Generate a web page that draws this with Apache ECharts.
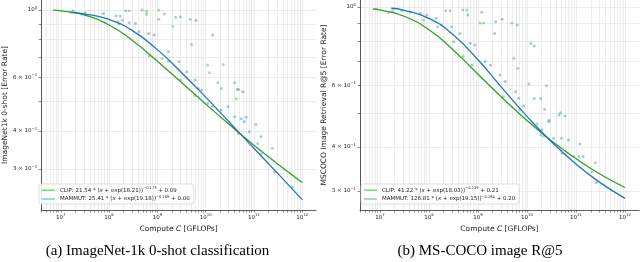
<!DOCTYPE html>
<html><head><meta charset="utf-8">
<script src="https://cdn.jsdelivr.net/npm/echarts@6/dist/echarts.min.js"></script>
<style>html,body{margin:0;padding:0;background:#fff}#c{width:640px;height:262px}</style>
</head><body><div id="c"></div><script>
// ---------- data ----------
const xTickLabels = [1e7, 1e8, 1e9, 1e10, 1e11, 1e12];
const yTickLabels = [1, 0.6, 0.4, 0.3];

// fitted curves
const fitXaClip = [7e6, 1e7, 3e7, 1e8, 3e8, 1e9, 3e9, 1e10, 3e10, 1e11, 3e11, 1e12];
const fitYaClip = [0.999, 0.994, 0.964, 0.893, 0.796, 0.679, 0.582, 0.491, 0.422, 0.359, 0.313, 0.271];
const fitXaMammut = [1.7e7, 3e7, 1e8, 3e8, 1e9, 3e9, 1e10, 3e10, 1e11, 3e11, 1e12];
const fitYaMammut = [0.981, 0.972, 0.931, 0.857, 0.741, 0.628, 0.517, 0.430, 0.351, 0.292, 0.238];
const fitXbClip = [7.2e6, 1e7, 3e7, 1e8, 3e8, 1e9, 3e9, 1e10, 3e10, 1e11, 3e11, 1e12];
const fitYbClip = [0.987, 0.981, 0.943, 0.862, 0.759, 0.644, 0.555, 0.476, 0.419, 0.371, 0.336, 0.307];
const fitXbMammut = [1.7e7, 3e7, 1e8, 3e8, 1e9, 3e9, 1e10, 3e10, 1e11, 3e11, 1e12];
const fitYbMammut = [0.992, 0.980, 0.928, 0.838, 0.708, 0.592, 0.489, 0.417, 0.358, 0.318, 0.286];

// scatter observations
const ptsAClip = [[1.6e7,0.982],[2e7,0.98],[2.7e7,0.97],[1.5e8,0.916],[2.2e8,0.995],[2.6e8,0.995],[4.8e8,1.0],[6e8,0.99],[6e8,0.968],[1.07e9,1.0],[1.4e9,0.97],[1.07e9,0.932],[2.4e9,0.946],[4.8e9,0.932],[2.1e9,0.885],[5.1e9,0.771],[1.1e10,0.659],[2.3e10,0.662],[1.2e10,0.622],[1.8e10,0.577],[4e10,0.577],[2.1e10,0.552],[4.3e10,0.511],[4.8e10,0.548],[6.8e8,0.706],[1.26e9,0.693],[1.7e9,0.68],[3e9,0.589],[6e9,0.525],[1.1e10,0.493],[1.1e11,0.42],[1.2e11,0.364],[2.4e11,0.351],[4.7e10,0.393],[1.6e8,0.9]];
const ptsAMammut = [[1.8e7,0.995],[3.2e7,0.98],[7.6e7,0.975],[1.4e8,0.958],[1.7e8,0.955],[1.9e8,0.927],[2.6e8,0.909],[3.5e8,0.904],[4.2e8,0.849],[6.6e8,0.838],[8.5e8,0.828],[1.7e9,0.729],[2.8e9,0.676],[4.1e9,0.627],[6e9,0.589],[7.1e9,0.552],[8.3e9,0.546],[1.4e10,0.483],[2.1e10,0.469],[2.9e10,0.481],[4e10,0.446],[5.4e10,0.439],[6.9e10,0.444],[3e9,0.95],[6.3e9,0.923],[1.4e10,0.828],[5.9e10,0.539],[4.5e10,0.548],[6.3e10,0.43],[8e10,0.398],[1.4e11,0.383],[1.4e11,0.336],[2.7e11,0.294],[6.2e11,0.262]];
const ptsBClip = [[1.5e7,0.964],[2.2e8,0.976],[2.7e8,0.976],[4.9e8,0.98],[5.9e8,0.98],[1.1e9,0.9],[1.3e9,0.9],[2.2e9,0.841],[4.9e9,0.9],[1.2e10,0.789],[5.4e9,0.715],[1.1e10,0.604],[2.5e10,0.597],[2.3e10,0.512],[4.8e10,0.501],[7.7e7,0.918],[1.5e8,0.879],[3.2e8,0.797],[5e8,0.723],[7.5e8,0.684],[3.3e9,0.556],[7.2e9,0.51],[1.6e10,0.465],[1.9e10,0.433],[5.1e10,0.424],[1.2e11,0.408],[1.15e11,0.376],[2.5e11,0.361],[2.1e11,0.34]];
const ptsBMammut = [[1.8e7,0.976],[2.8e7,0.976],[4.1e7,0.968],[6.6e7,0.959],[9e7,0.949],[1.4e8,0.929],[1.8e8,0.889],[2.9e8,0.879],[4.3e8,0.841],[6.9e8,0.789],[8.7e8,0.78],[1.4e9,0.70],[1.8e9,0.684],[2.8e9,0.641],[3.6e9,0.614],[5.8e9,0.574],[6.8e9,0.55],[8.5e9,0.523],[1.4e10,0.55],[1.9e10,0.55],[4.5e10,0.493],[6e10,0.49],[2.8e10,0.477],[1.2e9,0.966],[2.3e9,0.908],[3.1e9,0.923],[6.3e9,0.889],[1.4e10,0.775],[6.5e9,0.67],[6.2e8,0.949],[2e10,0.448],[2.8e10,0.472],[3.5e10,0.424],[7e10,0.419],[5.2e10,0.384],[9e10,0.376],[1.4e11,0.376],[2.6e11,0.317],[2.2e10,0.43]];

// legend texts: [prefix, coefficient-part, exponent, suffix]
const legendA = {
  'CLIP (a)': ['CLIP: 21.54 * (', ' + exp(18.21))', '−0.173', ' + 0.09'],
  'MAMMUT (a)': ['MAMMUT: 25.41 * (', ' + exp(19.18))', '−0.169', ' + 0.00']
};
const legendB = {
  'CLIP (b)': ['CLIP: 41.22 * (', ' + exp(18.03))', '−0.219', ' + 0.21'],
  'MAMMUT (b)': ['MAMMUT: 126.81 * (', ' + exp(19.15))', '−0.264', ' + 0.20']
};
const yNames = ['ImageNet1k 0-shot [Error Rate]', 'MSCOCO Image Retrieval R@5 [Error Rate]'];
const captions = ['(a) ImageNet-1k 0-shot classification', '(b) MS-COCO image R@5'];

// ---------- styling ----------
const GREEN = '#2ca02c', BLUE = '#1f77b4';
const FONT = 'DejaVu Sans';
const xMin = 3.91e6, xMax = 1.93e12;
const yRange = [[0.22, 1.079], [0.265, 1.047]];

const xMinor = [], yMinor = [0.3, 0.4, 0.5, 0.6, 0.7, 0.8, 0.9, 1.0];
for (let n = 6; n <= 12; n++) for (let k = 1; k <= 9; k++) {
  const v = k * Math.pow(10, n);
  if (v >= xMin && v <= xMax) xMinor.push(v);
}
const supRich = {
  b: {fontFamily: FONT, fontSize: 5.5, lineHeight: 9, color: '#222'},
  s: {fontFamily: FONT, fontSize: 3.8, verticalAlign: 'top', color: '#222'}
};
function xFmt(v) { return '{b|10}{s|' + Math.round(Math.log10(v)) + '}'; }
function yFmt(v) {
  if (Math.abs(v - 1) < 1e-9) return '{b|10}{s|0}';
  return '{b|' + Math.round(v * 10) + ' × 10}{s|−1}';
}
const grids = [
  {left: 37, top: 0, width: 279, height: 210},
  {left: 360, top: 0, width: 279, height: 210}
];
const xAxes = grids.map((g, i) => ({
  type: 'log', logBase: 10, gridIndex: i, min: xMin, max: xMax,
  axisLine: {show: true, onZero: false, lineStyle: {color: '#333', width: 0.8}},
  axisTick: {show: true, customValues: xMinor, length: 2.5, lineStyle: {color: '#444', width: 0.6}},
  axisLabel: {customValues: xTickLabels, formatter: xFmt, rich: supRich, margin: 3},
  splitLine: {show: false},
  name: '{n|Compute }{i|C}{n| [GFLOPs]}', nameLocation: 'middle', nameGap: 13,
  nameTextStyle: {rich: {
    n: {fontFamily: FONT, fontSize: 7.5, color: '#222'},
    i: {fontFamily: FONT, fontSize: 7.5, fontStyle: 'italic', color: '#222'}
  }}
}));
const yAxes = grids.map((g, i) => ({
  type: 'log', logBase: 10, gridIndex: i, min: yRange[i][0], max: yRange[i][1],
  axisLine: {show: true, onZero: false, lineStyle: {color: '#333', width: 0.8}},
  axisTick: {show: true, customValues: yMinor, length: 2.5, lineStyle: {color: '#444', width: 0.6}},
  axisLabel: {customValues: yTickLabels, formatter: yFmt, rich: supRich, margin: 4},
  splitLine: {show: false},
  name: yNames[i], nameLocation: 'middle', nameGap: i === 0 ? 29 : 32, nameRotate: 90,
  nameTextStyle: {fontFamily: FONT, fontSize: 7.5, color: '#222'}
}));

function gridSeries(i) {
  const data = [];
  xMinor.forEach(v => data.push({xAxis: v}));
  yMinor.forEach(v => { if (v >= yRange[i][0]) data.push({yAxis: v}); });
  return {
    type: 'line', xAxisIndex: i, yAxisIndex: i, data: [], silent: true,
    markLine: {silent: true, symbol: 'none', z: 0, animation: false,
      label: {show: false}, lineStyle: {color: '#e4e4e4', width: 0.7, type: 'solid'},
      emphasis: {disabled: true}, data: data}
  };
}
function fitSeries(name, i, xs, ys, color) {
  return {type: 'line', name: name, xAxisIndex: i, yAxisIndex: i, z: 4,
    data: xs.map((x, k) => [x, ys[k]]), showSymbol: false, smooth: 0.5,
    lineStyle: {color: color, width: 1.3}, itemStyle: {color: color}};
}
function scatterSeries(i, pts, color) {
  return {type: 'scatter', xAxisIndex: i, yAxisIndex: i, z: 3, data: pts, symbolSize: 3,
    itemStyle: {color: color, opacity: 0.4}};
}
function legendFmt(map) {
  return function (name) {
    const p = map[name];
    return '{n|' + p[0] + '}{i|x}{n|' + p[1] + '}{s|' + p[2] + '}{n|' + p[3] + '}';
  };
}
const legRich = {
  n: {fontFamily: FONT, fontSize: 5.5, lineHeight: 8.5, color: '#222'},
  i: {fontFamily: FONT, fontSize: 5.5, lineHeight: 8.5, fontStyle: 'italic', color: '#222'},
  s: {fontFamily: FONT, fontSize: 3.6, verticalAlign: 'top', color: '#222'}
};
function legend(left, top, map, names) {
  return {left: left, top: top, orient: 'vertical', itemWidth: 13, itemHeight: 1.6, itemGap: 1.5,
    padding: [2, 4, 2, 3], icon: 'rect', borderColor: '#d0d0d0', borderWidth: 0.7, borderRadius: 2,
    backgroundColor: 'rgba(255,255,255,0.85)', selectedMode: false,
    data: [{name: names[0], itemStyle: {color: '#8fd18f'}}, {name: names[1], itemStyle: {color: '#9cc3e4'}}],
    formatter: legendFmt(map), textStyle: {rich: legRich}};
}

const chart = echarts.init(document.getElementById('c'), null, {renderer: 'canvas'});
chart.setOption({
  animation: false,
  grid: grids,
  xAxis: xAxes,
  yAxis: yAxes,
  legend: [legend(39, 184, legendA, ['CLIP (a)', 'MAMMUT (a)']), legend(361, 184, legendB, ['CLIP (b)', 'MAMMUT (b)'])],
  series: [
    gridSeries(0), gridSeries(1),
    scatterSeries(0, ptsAClip, GREEN), scatterSeries(0, ptsAMammut, BLUE),
    scatterSeries(1, ptsBClip, GREEN), scatterSeries(1, ptsBMammut, BLUE),
    fitSeries('CLIP (a)', 0, fitXaClip, fitYaClip, GREEN),
    fitSeries('MAMMUT (a)', 0, fitXaMammut, fitYaMammut, BLUE),
    fitSeries('CLIP (b)', 1, fitXbClip, fitYbClip, GREEN),
    fitSeries('MAMMUT (b)', 1, fitXbMammut, fitYbMammut, BLUE)
  ],
  graphic: [
    {type: 'text', x: 157.5, y: 251, style: {text: captions[0], font: '15px "Liberation Serif"', align: 'center', verticalAlign: 'middle', fill: '#000'}},
    {type: 'text', x: 480, y: 251, style: {text: captions[1], font: '15px "Liberation Serif"', align: 'center', verticalAlign: 'middle', fill: '#000'}}
  ]
});
</script></body></html>
